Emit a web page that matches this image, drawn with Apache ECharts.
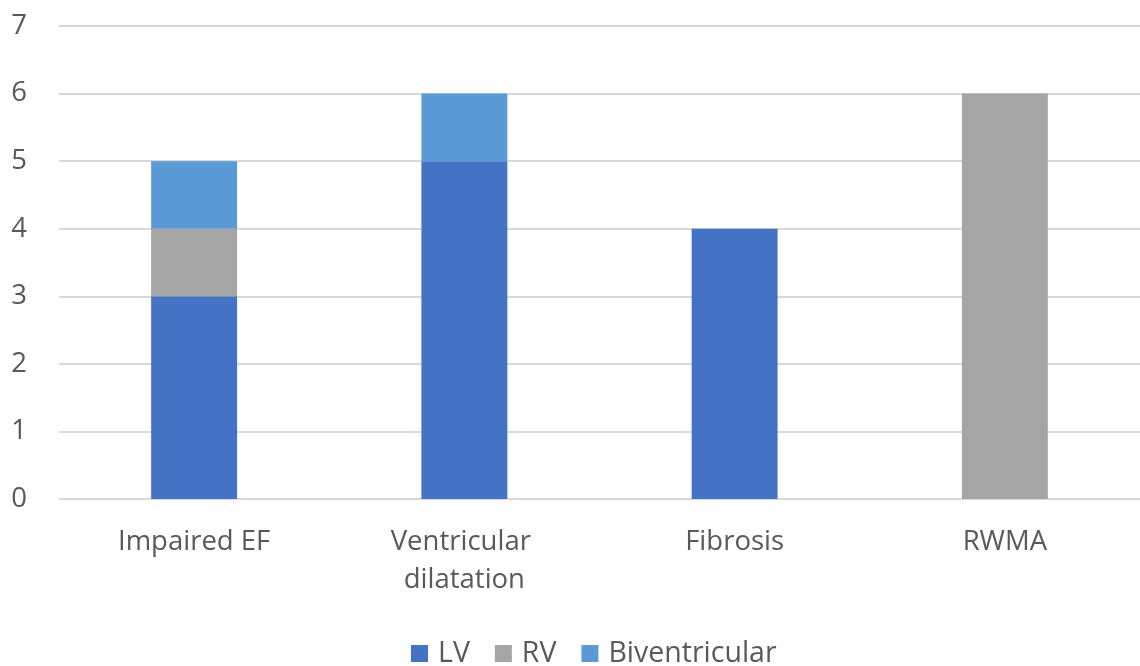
<!DOCTYPE html>
<html>
<head>
<meta charset="utf-8">
<script src="https://cdn.jsdelivr.net/npm/echarts@6/dist/echarts.min.js"></script>
<style>
  html, body { margin: 0; padding: 0; background: #fff; }
  #chart { width: 1140px; height: 666px; }
</style>
</head>
<body>
<div id="chart"></div>
<script>
// Findings per category, split by ventricle involved
const categories = ['Impaired EF', 'Ventricular dilatation', 'Fibrosis', 'RWMA'];
const lvValues = [3, 5, 4, null];
const rvValues = [1, null, null, 6];
const biventricularValues = [1, 1, null, null];
const yTicks = [0, 1, 2, 3, 4, 5, 6, 7];

const FONT = '"Open Sans", "Liberation Sans", sans-serif';
const TEXT = '#595959';
const SIZE = 27.5;

const chart = echarts.init(document.getElementById('chart'));

function bar(name, data, color) {
  return {
    name: name,
    type: 'bar',
    stack: 'total',
    data: data,
    barWidth: '31.8%',
    itemStyle: { color: color },
    emphasis: { disabled: true }
  };
}

chart.setOption({
  animation: false,
  grid: { left: 59, right: 0, top: 26, bottom: 167, containLabel: false },
  legend: {
    bottom: -7,
    left: 406,
    itemWidth: 17,
    itemHeight: 17,
    itemGap: 25,
    icon: 'rect',
    textStyle: { color: TEXT, fontSize: 28.5, fontFamily: FONT, padding: [0, 0, 0, 5] },
    data: ['LV', 'RV', 'Biventricular']
  },
  xAxis: {
    type: 'category',
    data: categories,
    axisLine: { show: false },
    axisTick: { show: false },
    axisLabel: {
      color: TEXT,
      fontSize: SIZE,
      fontFamily: FONT,
      margin: 24,
      lineHeight: 38,
      width: 240,
      overflow: 'break',
      interval: 0
    }
  },
  yAxis: {
    type: 'value',
    min: yTicks[0],
    max: yTicks[yTicks.length - 1],
    interval: 1,
    axisLine: { show: false },
    axisTick: { show: false },
    splitLine: { lineStyle: { color: '#D9D9D9', width: 2 } },
    axisLabel: {
      color: TEXT,
      fontSize: SIZE,
      fontFamily: FONT,
      margin: 32
    }
  },
  series: [
    bar('LV', lvValues, '#4472C4'),
    bar('RV', rvValues, '#A5A5A5'),
    bar('Biventricular', biventricularValues, '#5B9BD5')
  ]
});
</script>
</body>
</html>
